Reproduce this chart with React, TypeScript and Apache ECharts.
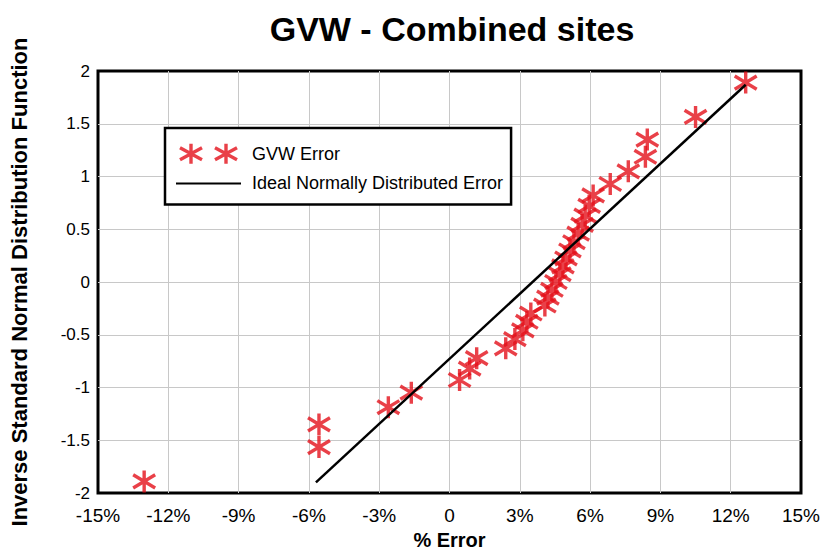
import React, { useEffect, useRef } from "react";
import * as echarts from "echarts";

// % error of each site, sorted
const errorPct = [
  -13.03, -5.57, -5.57, -2.61, -1.63, 0.43, 0.86, 1.16, 2.4, 2.79, 3.13, 3.3,
  3.47, 4.07, 4.2, 4.37, 4.54, 4.71, 4.84, 4.97, 5.14, 5.31, 5.49, 5.66, 5.79,
  5.96, 6.13, 6.86, 7.63, 8.36, 8.44, 10.5, 12.64,
];
// inverse standard normal value of each point
const normalScore = [
  -1.89, -1.565, -1.35, -1.187, -1.049, -0.929, -0.821, -0.722, -0.629, -0.541,
  -0.458, -0.377, -0.299, -0.223, -0.148, -0.074, 0, 0.074, 0.148, 0.223, 0.299,
  0.377, 0.458, 0.541, 0.629, 0.722, 0.821, 0.929, 1.049, 1.187, 1.35, 1.565,
  1.89,
];
// ideal normally distributed error line
const idealX = [-5.7, 12.64];
const idealY = [-1.9, 1.87];

const xTicks = { min: -15, max: 15, interval: 3 };
const yTicks = { min: -2, max: 2, interval: 0.5 };

const RED = "#e3101a";
const FONT = "'Liberation Sans', Arial, sans-serif";
const STAR = "path://M10 0V20M0 4L20 16M0 16L20 4";
const STAR2 =
  "path://M11 0V20M0 4L22 16M0 16L22 4M46 0V20M35 4L57 16M35 16L57 4";
const LINE_ICON = "path://M0 9H65V11H0Z";

export default function App() {
  const ref = useRef<HTMLDivElement>(null);
  useEffect(() => {
    if (!ref.current) return;
    const chart = echarts.init(ref.current, undefined, { renderer: "svg" });
    chart.setOption({
      animation: false,
      backgroundColor: "#ffffff",
      title: {
        text: "GVW - Combined sites",
        left: 447,
        textAlign: "center",
        top: 7,
        textStyle: {
          fontFamily: FONT,
          fontSize: 34,
          fontWeight: "bold",
          color: "#000",
        },
      },
      legend: {
        orient: "vertical",
        left: 165,
        top: 128,
        padding: [14, 8, 12, 11],
        itemGap: 9,
        itemWidth: 65,
        itemHeight: 20,
        borderColor: "#000",
        borderWidth: 2.5,
        backgroundColor: "#fff",
        textStyle: {
          fontFamily: FONT,
          fontSize: 18,
          color: "#000",
          padding: [0, 0, 0, 6],
        },
        data: [
          {
            name: "GVW Error",
            icon: STAR2,
            itemStyle: { color: "transparent", borderColor: RED, borderWidth: 3.4 },
          },
          {
            name: "Ideal Normally Distributed Error",
            icon: LINE_ICON,
            itemStyle: { color: "#000", borderWidth: 0 },
          },
        ],
      },
      grid: {
        left: 98,
        right: 21,
        top: 71,
        bottom: 59,
        outerBoundsMode: "none",
        containLabel: false,
        show: true,
        borderColor: "#000",
        borderWidth: 3,
        backgroundColor: "#fff",
      },
      xAxis: {
        type: "value",
        min: xTicks.min,
        max: xTicks.max,
        interval: xTicks.interval,
        name: "% Error",
        nameLocation: "middle",
        nameGap: 34,
        nameTextStyle: {
          fontFamily: FONT,
          fontSize: 20,
          fontWeight: "bold",
          color: "#000",
        },
        axisLine: { show: false },
        axisTick: { show: false },
        axisLabel: {
          margin: 13,
          fontFamily: FONT,
          fontSize: 19,
          color: "#000",
          formatter: (v: number) => (v === 0 ? "0" : `${v}%`),
        },
        splitLine: {
          show: true,
          showMinLine: false,
          showMaxLine: false,
          lineStyle: { color: "#c8c8c8", width: 1 },
        },
      },
      yAxis: {
        type: "value",
        min: yTicks.min,
        max: yTicks.max,
        interval: yTicks.interval,
        name: "Inverse Standard Normal Distribution Function",
        nameLocation: "middle",
        nameGap: 68,
        nameTextStyle: {
          fontFamily: FONT,
          fontSize: 22,
          fontWeight: "bold",
          color: "#000",
        },
        axisLine: { show: false },
        axisTick: { show: false },
        axisLabel: {
          margin: 8,
          fontFamily: FONT,
          fontSize: 17,
          color: "#000",
        },
        splitLine: {
          show: true,
          showMinLine: false,
          showMaxLine: false,
          lineStyle: { color: "#c8c8c8", width: 1 },
        },
      },
      series: [
        {
          name: "GVW Error",
          type: "scatter",
          symbol: STAR,
          symbolSize: 22,
          clip: false,
          z: 3,
          itemStyle: { color: "transparent", borderColor: RED, borderWidth: 3.4 },
          data: errorPct.map((x, i) => [x, normalScore[i]]),
        },
        {
          name: "Ideal Normally Distributed Error",
          type: "line",
          symbol: "none",
          z: 4,
          lineStyle: { color: "#000", width: 2.5 },
          itemStyle: { color: "#000" },
          data: idealX.map((x, i) => [x, idealY[i]]),
        },
      ],
    });
    return () => chart.dispose();
  }, []);
  return (
    <div
      ref={ref}
      style={{ position: "fixed", left: 0, top: 0, width: 822, height: 552 }}
    />
  );
}
